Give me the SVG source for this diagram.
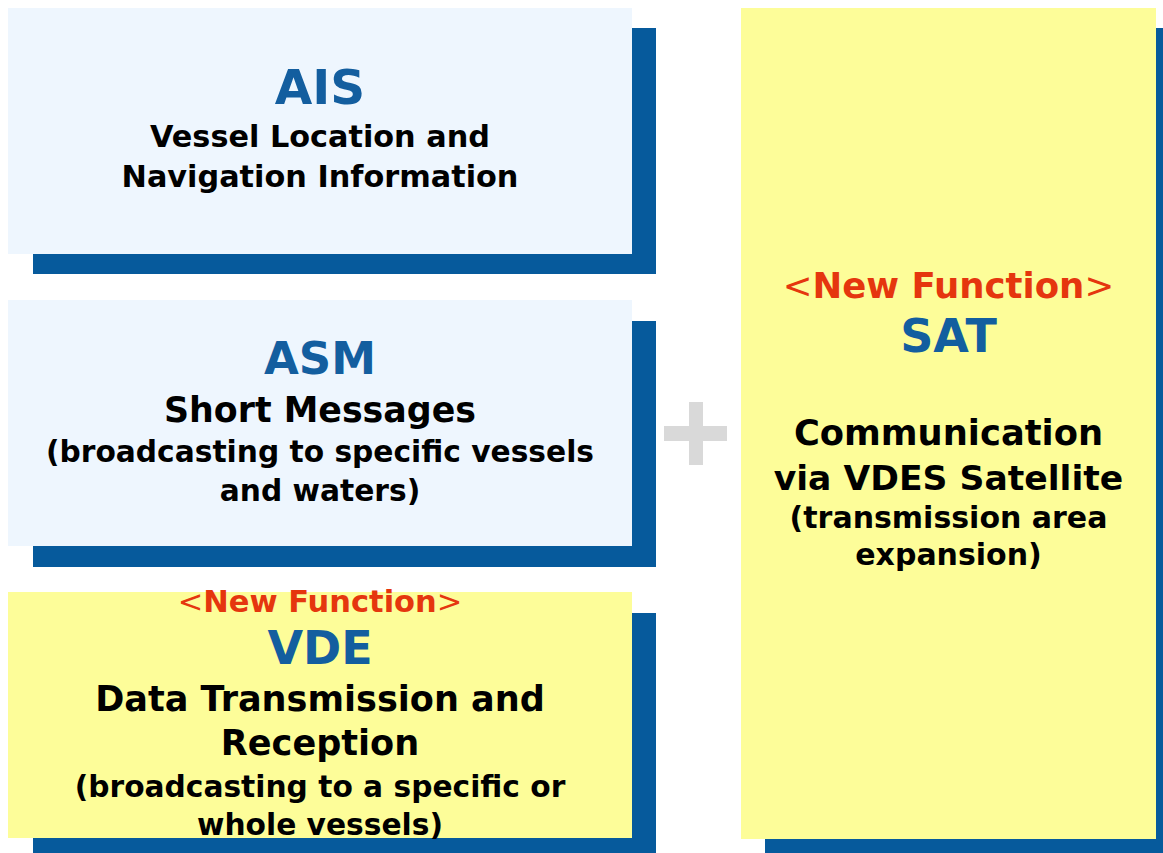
<svg xmlns="http://www.w3.org/2000/svg" width="1163" height="853" viewBox="0 0 1163 853">
<style>
.shadow{fill:#065a9c}
.light{fill:#eef6fe}
.yellow{fill:#fdfd99}
text{font-family:"DejaVu Sans","Verdana",sans-serif;font-weight:bold;text-anchor:middle}
.title{fill:#135e9f}
.desc{fill:#000}
.red{fill:#e5360e}
.br{font-weight:normal}
</style>
<rect width="1163" height="853" fill="#fff"/>
<g id="sat">
<rect class="shadow" x="765" y="28" width="415" height="831"/>
<rect class="yellow" x="741" y="8" width="415" height="831"/>
<text class="red" x="948.5" y="298" font-size="35.5"><tspan class="br">&lt;</tspan>New Function<tspan class="br">&gt;</tspan></text>
<text class="title" x="948.5" y="352" font-size="46">SAT</text>
<text class="desc" x="948.5" y="445" font-size="35.3">Communication</text>
<text class="desc" x="948.5" y="490" font-size="34.6">via VDES Satellite</text>
<text class="desc" x="948.5" y="528" font-size="30">(transmission area</text>
<text class="desc" x="948.5" y="565" font-size="30">expansion)</text>
</g>
<g id="ais">
<rect class="shadow" x="33" y="28" width="623" height="246"/>
<rect class="light" x="8" y="8" width="624" height="246"/>
<text class="title" x="320" y="104" font-size="48.5">AIS</text>
<text class="desc" x="320" y="147" font-size="30.3">Vessel Location and</text>
<text class="desc" x="320" y="187" font-size="30.3">Navigation Information</text>
</g>
<g id="asm">
<rect class="shadow" x="33" y="321" width="623" height="246"/>
<rect class="light" x="8" y="300" width="624" height="246"/>
<text class="title" x="320" y="374" font-size="45">ASM</text>
<text class="desc" x="320" y="422" font-size="34.8">Short Messages</text>
<text class="desc" x="320" y="462" font-size="29.7">(broadcasting to specific vessels</text>
<text class="desc" x="320" y="501" font-size="29.7">and waters)</text>
</g>
<g id="vde">
<rect class="shadow" x="33" y="613" width="623" height="246"/>
<rect class="yellow" x="8" y="592" width="624" height="246"/>
<text class="red" x="320" y="612" font-size="30.5"><tspan class="br">&lt;</tspan>New Function<tspan class="br">&gt;</tspan></text>
<text class="title" x="320" y="664" font-size="46">VDE</text>
<text class="desc" x="320" y="711" font-size="35.1">Data Transmission and</text>
<text class="desc" x="320" y="755" font-size="35.1">Reception</text>
<text class="desc" x="320" y="797" font-size="29.7">(broadcasting to a specific or</text>
<text class="desc" x="320" y="835" font-size="29.7">whole vessels)</text>
</g>
<g id="plus">
<rect x="689" y="402" width="14" height="63" fill="#d9d9d9"/>
<rect x="664" y="426" width="63" height="15" fill="#d9d9d9"/>
</g>
<g id="connectors"></g>
</svg>
